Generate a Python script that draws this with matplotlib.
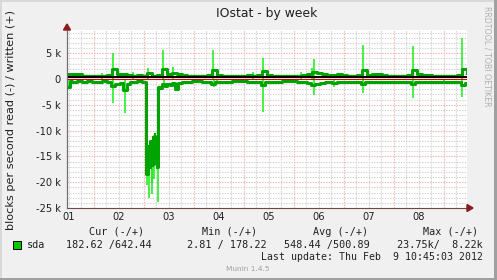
import matplotlib
matplotlib.use('Agg')
import matplotlib.pyplot as plt
from matplotlib.patches import Rectangle, Polygon

# ---------------- data (values in thousands of blocks/s, x in days) ----------------
write_days = [0.0, 0.1, 0.2, 0.3, 0.4, 0.5, 0.6, 0.7, 0.8, 0.9,
              1.0, 1.1, 1.2, 1.3, 1.4, 1.5, 1.6, 1.7, 1.8, 1.9,
              2.0, 2.1, 2.2, 2.3, 2.4, 2.5, 2.6, 2.7, 2.8, 2.9,
              3.0, 3.1, 3.2, 3.3, 3.4, 3.5, 3.6, 3.7, 3.8, 3.9,
              4.0, 4.1, 4.2, 4.3, 4.4, 4.5, 4.6, 4.7, 4.8, 4.9,
              5.0, 5.1, 5.2, 5.3, 5.4, 5.5, 5.6, 5.7, 5.8, 5.9,
              6.0, 6.1, 6.2, 6.3, 6.4, 6.5, 6.6, 6.7, 6.8, 6.9,
              7.0, 7.1, 7.2, 7.3, 7.4, 7.5, 7.6, 7.7, 7.8, 7.9, 8.0]
write_vals = [0.9, 0.9, 0.9, 0.6, 0.6, 0.6, 0.5, 0.6, 0.7, 1.9,
              1.0, 1.0, 0.7, 0.6, 0.7, 0.6, 1.2, 0.6, 0.7, 1.9,
              1.0, 1.2, 1.0, 0.7, 0.6, 0.6, 0.6, 0.6, 0.7, 1.7,
              0.8, 0.6, 0.6, 0.6, 0.6, 0.6, 0.8, 0.6, 0.7, 1.5,
              0.8, 0.6, 0.6, 0.6, 0.6, 0.6, 0.6, 0.7, 0.9, 1.4,
              1.2, 0.9, 0.7, 0.7, 0.9, 0.7, 0.6, 0.6, 0.7, 1.8,
              0.8, 1.0, 0.9, 0.7, 0.6, 0.6, 0.6, 0.6, 0.7, 1.7,
              0.9, 0.8, 0.8, 0.6, 0.6, 0.6, 0.6, 0.6, 0.7, 1.9, 1.2]

read_days = [0.0, 0.05, 0.1, 0.2, 0.3, 0.4, 0.5, 0.6, 0.7, 0.8, 0.88, 0.95,
             1.05, 1.12, 1.2, 1.25, 1.3, 1.4, 1.5, 1.58, 1.62, 1.66, 1.70,
             1.73, 1.76, 1.79, 1.82, 1.86, 1.9, 1.95, 2.0, 2.05, 2.1, 2.15,
             2.22, 2.3, 2.5, 2.7, 2.88, 2.95, 3.0, 3.3, 3.6, 3.88, 3.95,
             4.0, 4.3, 4.6, 4.8, 4.88, 4.95, 5.05, 5.15, 5.3, 5.4, 5.5,
             5.88, 5.95, 6.0, 6.4, 6.88, 6.95, 7.0, 7.4, 7.88, 7.95, 8.0]
read_vals = [-1.5, -0.4, -0.5, -0.4, -0.5, -0.4, -0.5, -0.6, -0.4, -0.5, -1.3, -0.9,
             -0.8, -2.1, -0.9, -0.5, -0.5, -0.4, -0.5, -18.5, -13.0, -12.0, -16.5,
             -11.0, -15.5, -17.0, -1.5, -1.8, -1.0, -1.3, -0.9, -1.2, -0.8, -2.0,
             -0.7, -0.5, -0.4, -0.5, -1.0, -0.6, -0.5, -0.4, -0.5, -1.1, -0.6,
             -0.5, -0.4, -0.5, -0.8, -1.2, -1.0, -0.8, -0.6, -0.7, -0.6, -0.5,
             -1.0, -0.6, -0.5, -0.5, -1.0, -0.6, -0.5, -0.5, -1.1, -0.8, -0.8]

dip_band_days = [1.66, 1.70, 1.74, 1.78, 1.81]
dip_band_hi = [-12.0, -11.0, -10.5, -12.0, -12.0]
dip_band_lo = [-17.5, -17.0, -16.5, -17.5, -17.5]

spike_days = [0.02, 0.69, 0.91, 0.91, 1.15, 1.31, 1.60, 1.62, 1.64, 1.69, 1.70,
              1.74, 1.81, 1.91, 1.93, 2.12, 2.91, 2.93, 3.00, 3.71, 3.91, 3.91,
              4.67, 4.90, 4.93, 4.93, 5.33, 5.91, 5.91, 6.91, 6.91, 7.53, 7.89, 7.89]
spike_lo = [-1.5, 0.0, 0.0, -4.7, -6.5, 0.0, -20.5, 0.0, -23.0, -20.2, -22.2,
            -19.4, -23.8, 0.0, -1.8, 0.0, 0.0, -1.5, -1.0, 0.0, 0.0, -6.3,
            0.0, 0.0, 0.0, -3.1, -1.5, 0.0, -2.8, 0.0, -3.6, -1.0, 0.0, -3.4]
spike_hi = [0.0, 1.2, 5.0, 0.0, 0.0, 1.3, -15.0, 2.1, -16.0, -15.0, -15.0,
            -15.0, -12.0, 5.6, 0.0, 2.3, 5.6, 0.0, 0.0, 1.3, 4.1, 0.0,
            1.3, 2.2, 3.8, 0.0, 0.0, 6.6, 0.0, 6.4, 0.0, 0.0, 8.0, 0.0]

black_level = 0.35
red_level = -0.05

day_labels = ['01', '02', '03', '04', '05', '06', '07', '08']
y_major = [-25, -20, -15, -10, -5, 0, 5]
y_labels = ['-25 k', '-20 k', '-15 k', '-10 k', '-5 k', '0', '5 k']

# ---------------- figure ----------------
W, H = 497, 280
fig = plt.figure(figsize=(W / 100, H / 100), dpi=100, facecolor='#F0F0F0')

def fx(x):
    return x / W

def fy(y):
    return 1 - y / H

ax = fig.add_axes([fx(67), fy(208), 400 / W, 178 / H])
ax.set_facecolor('white')
ax.set_xlim(0, 8)
ax.set_ylim(-25, 9.5)

# grid
grid_off = 0.03
gray_c = '#D2D2D2'
red_c = '#F2B0B0'
for k in range(33):
    gx = grid_off + 0.25 * k
    if gx < 8 and k % 4 != 2:
        ax.axvline(gx, color=gray_c, lw=0.8, ls=(0, (1.2, 1.2)), zorder=0.5)
for k in range(8):
    ax.axvline(grid_off + 0.5 + k, color=red_c, lw=0.8, ls=(0, (1.2, 1.2)), zorder=0.6)
for v in range(-24, 10):
    if v % 5 != 0:
        ax.axhline(v, color=gray_c, lw=0.8, ls=(0, (1.2, 1.2)), zorder=0.5)
for v in [-20, -15, -10, -5, 5]:
    ax.axhline(v, color=red_c, lw=0.8, ls=(0, (1.2, 1.2)), zorder=0.6)

# data
bright = '#14F014'
dark = '#00A400'
ax.vlines(spike_days, spike_lo, spike_hi, color=bright, lw=1.1, zorder=2)
ax.fill_between(dip_band_days, dip_band_lo, dip_band_hi, step='post', color=dark, lw=0, zorder=2.5)
ax.plot(write_days, write_vals, drawstyle='steps-post', color=dark, lw=2.2, zorder=3)
ax.plot(read_days, read_vals, drawstyle='steps-post', color=dark, lw=2.2, zorder=3)
ax.axhline(black_level, color='black', lw=1.5, zorder=4)
ax.axhline(red_level, color='#E00000', lw=0.8, zorder=4)

# axes
for s in ['top', 'right']:
    ax.spines[s].set_visible(False)
ax.spines['left'].set_color('#707070')
ax.spines['bottom'].set_color('#6E4848')
ax.spines['left'].set_linewidth(0.8)
ax.spines['bottom'].set_linewidth(0.8)
ax.set_xticks([grid_off + k for k in range(8)])
ax.set_xticklabels(day_labels)
ax.set_yticks(y_major)
ax.set_yticklabels(y_labels)
ax.tick_params(length=0, labelsize=7.1, colors='#202020')
ax.tick_params(axis='x', pad=3.2)
ax.tick_params(axis='y', pad=4.5)
for t in ax.get_xticklabels() + ax.get_yticklabels():
    t.set_fontfamily('DejaVu Sans')

# arrows
arrow_c = '#8B1A1A'
fig.patches.append(Polygon([[fx(67), fy(24)], [fx(63.5), fy(30)], [fx(70.5), fy(30)]],
                           closed=True, transform=fig.transFigure, color=arrow_c, zorder=5))
fig.lines.append(plt.Line2D([fx(67), fx(67)], [fy(208), fy(29)], transform=fig.transFigure,
                            color='#707070', lw=0.8))
fig.patches.append(Polygon([[fx(473), fy(208)], [fx(467), fy(204.5)], [fx(467), fy(211.5)]],
                           closed=True, transform=fig.transFigure, color=arrow_c, zorder=5))
fig.lines.append(plt.Line2D([fx(467), fx(469)], [fy(208), fy(208)], transform=fig.transFigure,
                            color='#6E4848', lw=0.8))

# texts
fig.text(fx(267), fy(14), 'IOstat - by week', ha='center', va='center',
         fontsize=8.9, family='DejaVu Sans', color='#202020')
fig.text(fx(11), fy(119.5), 'blocks per second read (-) / written (+)', ha='center', va='center',
         rotation=90, fontsize=8.1, family='DejaVu Sans', color='#202020')
fig.text(fx(487), fy(56), 'RRDTOOL / TOBI OETIKER', ha='center', va='center',
         rotation=270, fontsize=5.7, family='DejaVu Sans', color='#B0B0B0')

mono = dict(family='DejaVu Sans Mono', fontsize=7.25, color='#202020', va='center', ha='left')
for x, s in [(89, 'Cur (-/+)'), (202, 'Min (-/+)'), (313, 'Avg (-/+)'), (423, 'Max (-/+)')]:
    fig.text(fx(x), fy(232), s, **mono)
fig.patches.append(Rectangle((fx(13), fy(249)), 8 / W, 8 / H, transform=fig.transFigure,
                             facecolor='#00CC00', edgecolor='black', lw=0.7))
for x, s in [(27, 'sda'), (66, '182.62 /642.44'), (187, '2.81 / 178.22'),
             (284, '548.44 /500.89'), (397, '23.75k/  8.22k')]:
    fig.text(fx(x), fy(245), s, **mono)
fig.text(fx(483), fy(257), 'Last update: Thu Feb  9 10:45:03 2012',
         **{**mono, 'ha': 'right', 'fontsize': 7.15})
fig.text(fx(248), fy(269), 'Munin 1.4.5', ha='center', va='center', fontsize=5.3,
         family='DejaVu Sans', color='#A0A0A0')

# frame
fig.patches.append(Rectangle((0, 0), 1, 2 / H, transform=fig.transFigure, color='#A0A0A0', lw=0))
fig.patches.append(Rectangle((1 - 3 / W, 0), 3 / W, 1, transform=fig.transFigure, color='#A0A0A0', lw=0))
fig.patches.append(Rectangle((0, 1 - 2 / H), 1 - 3 / W, 2 / H, transform=fig.transFigure, color='#D8D8D8', lw=0))
fig.patches.append(Rectangle((0, 2 / H), 2 / W, 1, transform=fig.transFigure, color='#D8D8D8', lw=0))

fig.savefig('out.png', dpi=100, facecolor=fig.get_facecolor())
